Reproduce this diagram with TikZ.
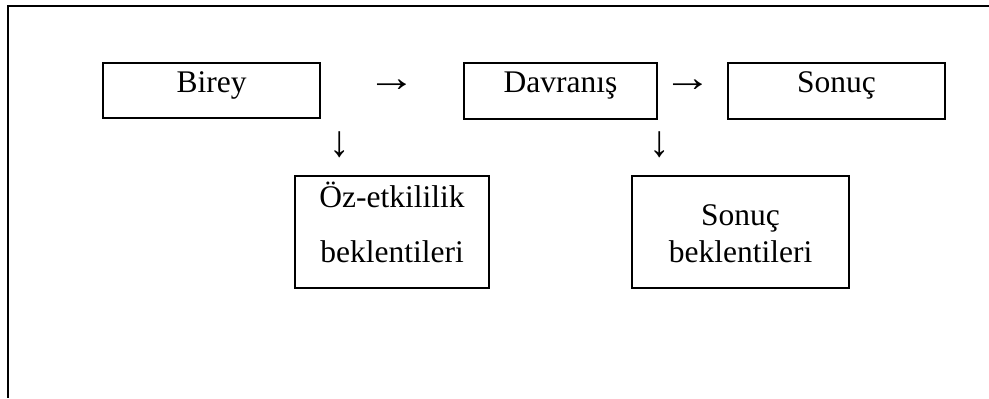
\documentclass[tikz,border=0pt]{standalone}
\usepackage{fontspec}
\setmainfont{Liberation Serif}
\begin{document}
\begin{tikzpicture}[x=0.5pt,y=-0.5pt,
  box/.style={draw,line width=1pt,inner sep=0pt},
  word/.style={inner sep=0pt,anchor=base,font=\fontsize{15.75pt}{18pt}\selectfont},
  glyph/.style={inner sep=0pt,anchor=center,font=\fontsize{15.75pt}{18pt}\selectfont},
  hglyph/.style={glyph,xscale=1.55,yscale=1.3},
  vglyph/.style={glyph,xscale=1.3,yscale=1.4}]
\useasboundingbox (0,0) rectangle (989,398);
% open frame: top rule and left rule
\draw[line width=1pt] (989,6) -- (8,6) -- (8,398);
% upper row of boxes
\node[box,minimum width=108.5pt,minimum height=27.5pt] (birey) at (211.5,90.5) {};
\node[box,minimum width=96.5pt,minimum height=28pt] (davranis) at (560.5,91) {};
\node[box,minimum width=108.5pt,minimum height=28pt] (sonuc) at (836.5,91) {};
% lower row of boxes
\node[box,minimum width=97pt,minimum height=56pt] (oz) at (392,232) {};
\node[box,minimum width=108.5pt,minimum height=56pt] (sb) at (740.5,232) {};
% labels
\node[word] (tbirey) at (211.5,92) {Birey};
\node[word] (tdavranis) at (560.5,92) {Davranış};
\node[word] (tsonuc) at (836.5,92) {Sonuç};
\node[word] (toz1) at (392,207) {Öz-etkililik};
\node[word] (toz2) at (392,262) {beklentileri};
\node[word] (tsb1) at (740.5,225) {Sonuç};
\node[word] (tsb2) at (740.5,262) {beklentileri};
% arrow glyphs
\node[hglyph] (r1) at (392,86) {→};
\node[hglyph] (r2) at (688,86) {→};
\node[vglyph] (d1) at (340,145) {↓};
\node[vglyph] (d2) at (660,145) {↓};
\end{tikzpicture}
\end{document}
